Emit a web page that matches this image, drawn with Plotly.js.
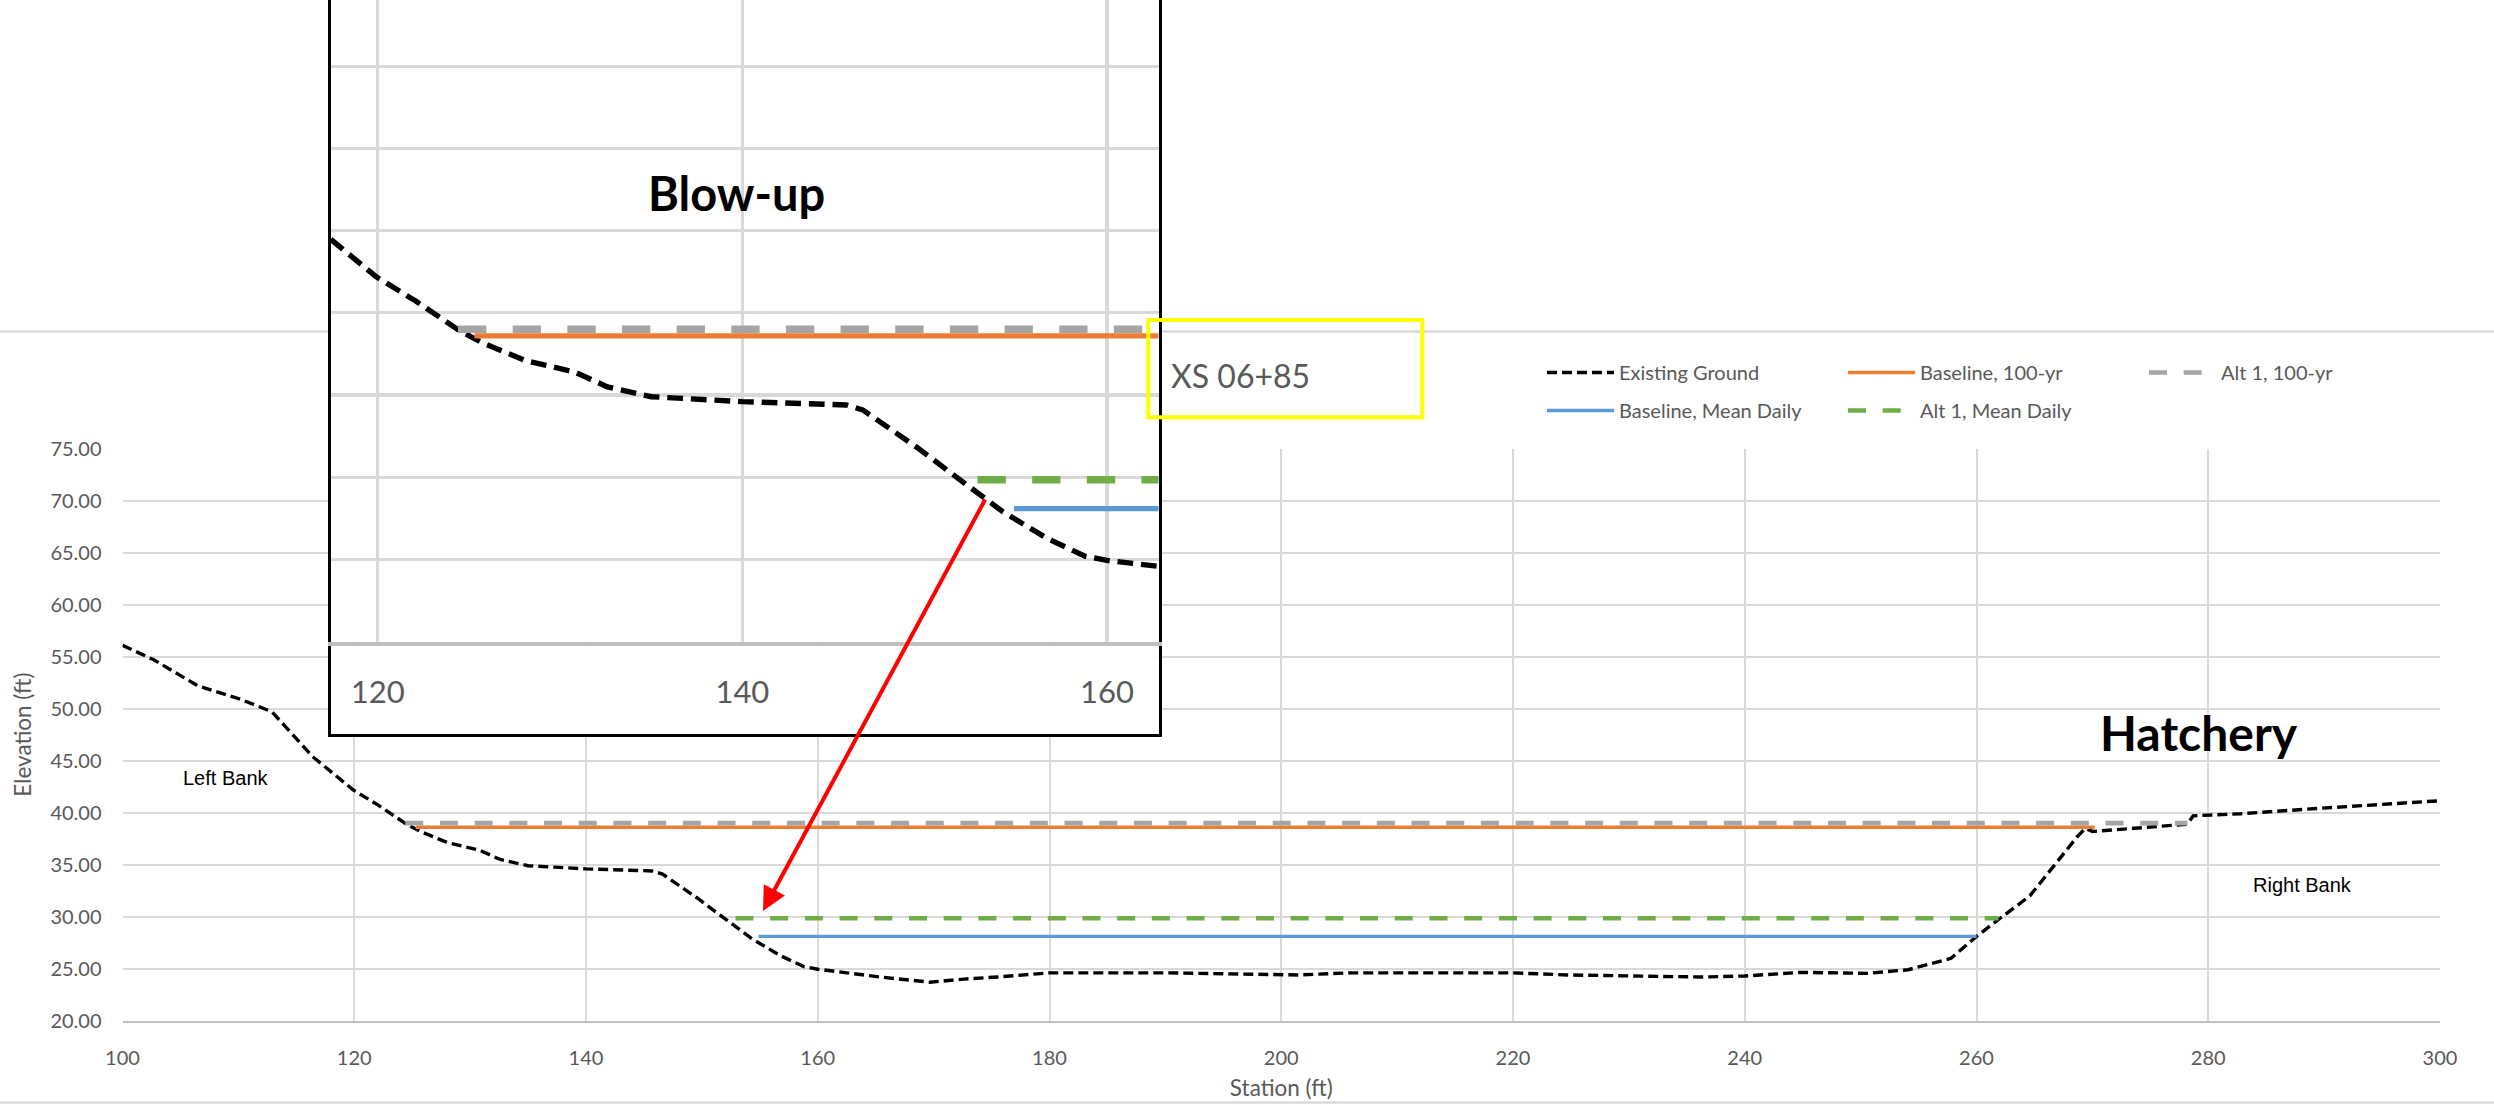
<!DOCTYPE html>
<html><head><meta charset="utf-8">
<script src="https://cdn.plot.ly/plotly-3.0.1.min.js"></script>
<style>html,body{margin:0;padding:0;background:#fff;} #chart{width:2494px;height:1105px;}</style>
</head><body><div id="chart"></div>
<script>
// ---- data ----
const stationGround = [100, 102.7, 106.5, 110.2, 112.9, 116.4, 119.9, 122.1, 124.5, 125.7, 128.1, 130.8, 132.6, 135, 140, 145.7, 146.6, 149.6, 152, 154.3, 156.7, 158.8, 160, 162.5, 165.4, 169.7, 172.6, 175.5, 180, 190, 201.5, 206, 220, 224.7, 230.4, 236.2, 240, 244.9, 250.6, 254.1, 257.8, 260, 262.1, 264.6, 266.4, 268.7, 269.4, 270, 273.6, 278.2, 278.7, 282.8, 289.3, 295.8, 300];
const elevGround = [56.1, 54.7, 52.2, 50.9, 49.7, 45.4, 42.2, 40.7, 38.9, 38.2, 37.1, 36.4, 35.5, 34.9, 34.6, 34.4, 34.1, 31.8, 29.8, 27.9, 26.3, 25.2, 24.95, 24.6, 24.2, 23.7, 24.0, 24.2, 24.6, 24.6, 24.4, 24.6, 24.6, 24.4, 24.3, 24.2, 24.3, 24.65, 24.55, 24.9, 26.0, 28.1, 29.9, 32.0, 34.5, 37.7, 38.5, 38.2, 38.5, 38.9, 39.7, 39.9, 40.4, 40.9, 41.15];
const base100Station = [125.3, 270.2];
const base100Elev = [38.6, 38.6];
const alt100Station = [124.4, 278.2];
const alt100Elev = [39.0, 39.0];
const baseMDStation = [154.9, 260.0];
const baseMDElev = [28.1, 28.1];
const altMDStation = [152.9, 261.9];
const altMDElev = [29.85, 29.85];
const seriesNames = ['Existing Ground', 'Baseline, 100-yr', 'Alt 1, 100-yr', 'Baseline, Mean Daily', 'Alt 1, Mean Daily'];
const xTicks = [100, 120, 140, 160, 180, 200, 220, 240, 260, 280, 300];
const yTicks = [20, 25, 30, 35, 40, 45, 50, 55, 60, 65, 70, 75];
const insetXTicks = [120, 140, 160];

// ---- page geometry helpers (layout only) ----
const W = 2494, H = 1105;
const px = p => p / W;
const py = p => 1 - p / H;
const K = 1.575; // blow-up magnification

const C = {ground: '#000000', base100: '#ed7d31', alt100: '#a5a5a5', baseMD: '#5b9bd5', altMD: '#70ad47'};

function series(xa, ya, big) {
  const k = big ? K : 1;
  const sl = !big;
  return [
    {x: stationGround, y: elevGround, name: seriesNames[0], xaxis: xa, yaxis: ya, mode: 'lines', showlegend: sl, legend: 'legend',
     line: {color: C.ground, width: 3.4 * k, dash: (10 * k) + 'px,' + (5 * k) + 'px'}},
    {x: base100Station, y: base100Elev, name: seriesNames[1], xaxis: xa, yaxis: ya, mode: 'lines', showlegend: sl, legend: 'legend',
     line: {color: C.base100, width: 3.3 * k}},
    {x: alt100Station, y: alt100Elev, name: seriesNames[2], xaxis: xa, yaxis: ya, mode: 'lines', showlegend: sl, legend: 'legend',
     line: {color: C.alt100, width: 4.7 * k, dash: (18 * k) + 'px,' + (16.7 * k) + 'px'}},
    {x: baseMDStation, y: baseMDElev, name: seriesNames[3], xaxis: xa, yaxis: ya, mode: 'lines', showlegend: sl, legend: 'legend2',
     line: {color: C.baseMD, width: 3.3 * k}},
    {x: altMDStation, y: altMDElev, name: seriesNames[4], xaxis: xa, yaxis: ya, mode: 'lines', showlegend: sl, legend: 'legend2',
     line: {color: C.altMD, width: 4.7 * k, dash: (18 * k) + 'px,' + (16.7 * k) + 'px'}}
  ];
}

// empty placeholder trace so the label strip under the blow-up gets its own (white) subplot
const stripTrace = {x: [], y: [], xaxis: 'x2', yaxis: 'y2', mode: 'lines', showlegend: false, hoverinfo: 'skip'};

const traces = [].concat(series('x', 'y', false), [stripTrace], series('x3', 'y3', true));

const legendCommon = {
  orientation: 'h', xanchor: 'left', yanchor: 'top', x: px(1542),
  entrywidth: 219, entrywidthmode: 'pixels', itemwidth: 67,
  font: {family: 'Lato, sans-serif', size: 20, color: '#595959'},
  bgcolor: 'rgba(0,0,0,0)', borderwidth: 0, traceorder: 'normal', itemclick: false, itemdoubleclick: false
};

const layout = {
  width: W, height: H,
  margin: {l: 0, r: 0, t: 0, b: 0},
  paper_bgcolor: '#ffffff', plot_bgcolor: '#ffffff',
  font: {family: 'Lato, sans-serif', size: 20, color: '#595959'},
  showlegend: true,
  legend: Object.assign({}, legendCommon, {y: py(353)}),
  legend2: Object.assign({}, legendCommon, {y: py(391)}),
  xaxis: {
    domain: [px(122.5), px(2440)], anchor: 'y', range: [100, 300], tickvals: xTicks,
    showgrid: true, gridcolor: '#d9d9d9', gridwidth: 2, zeroline: false,
    showline: true, linecolor: '#bfbfbf', linewidth: 2.5, ticks: '', ticklabelstandoff: 18,
    tickfont: {size: 20, color: '#595959'},
    title: {text: 'Station (ft)', font: {size: 22.5, color: '#595959'}, standoff: 12},
    fixedrange: true
  },
  yaxis: {
    domain: [py(1020.7), py(448.7)], anchor: 'x', range: [20, 75], tickvals: yTicks, tickformat: '.2f',
    showgrid: true, gridcolor: '#d9d9d9', gridwidth: 2, zeroline: false, showline: false,
    ticks: '', ticklabelstandoff: 20, tickfont: {size: 20, color: '#595959'},
    title: {text: 'Elevation (ft)', font: {size: 22.5, color: '#595959'}, standoff: 12},
    fixedrange: true
  },
  // strip below the blow-up plot area (holds its tick labels)
  xaxis2: {
    domain: [px(330.8), px(1158.5)], anchor: 'y2', range: [0, 1], showgrid: false, zeroline: false,
    showticklabels: false, ticks: '', showline: true, linecolor: '#000000', linewidth: 3, fixedrange: true
  },
  yaxis2: {
    domain: [py(734), py(641.8)], anchor: 'x2', range: [0, 1], showgrid: false, zeroline: false,
    showticklabels: false, ticks: '', showline: true, mirror: true, linecolor: '#000000', linewidth: 3, fixedrange: true
  },
  // blow-up plot area
  xaxis3: {
    domain: [px(330.8), px(1158.5)], anchor: 'y3', range: [117.42, 162.83], tickvals: insetXTicks,
    showgrid: true, gridcolor: '#d9d9d9', gridwidth: 3.2, zeroline: false,
    showline: true, linecolor: '#bfbfbf', linewidth: 4.5, ticks: '', ticklabelstandoff: 19,
    tickfont: {size: 31, color: '#595959'}, fixedrange: true
  },
  yaxis3: {
    domain: [py(641.8), 1], anchor: 'x3', range: [20, 59.02], tick0: 0, dtick: 5,
    showgrid: true, gridcolor: '#d9d9d9', gridwidth: 3.2, zeroline: false, showticklabels: false, ticks: '',
    showline: true, mirror: true, linecolor: '#000000', linewidth: 3, fixedrange: true
  },
  shapes: [
    {type: 'line', xref: 'paper', yref: 'paper', x0: 0, x1: 1, y0: py(331.5), y1: py(331.5), layer: 'below',
     line: {color: '#d9d9d9', width: 2.5}},
    {type: 'line', xref: 'paper', yref: 'paper', x0: 0, x1: 1, y0: py(1102.5), y1: py(1102.5), layer: 'below',
     line: {color: '#d9d9d9', width: 2.5}},
    {type: 'rect', xref: 'paper', yref: 'paper', x0: px(1148.3), x1: px(1422.3), y0: py(417.3), y1: py(320), layer: 'above',
     line: {color: '#ffff00', width: 4}, fillcolor: 'rgba(0,0,0,0)'}
  ],
  annotations: [
    {text: '<b>Blow-up</b>', xref: 'paper', yref: 'paper', x: px(736), y: py(193), xanchor: 'center', yanchor: 'middle',
     showarrow: false, font: {family: 'Lato, sans-serif', size: 47, color: '#000000'}},
    {text: '<b>Hatchery</b>', xref: 'paper', yref: 'paper', x: px(2199), y: py(732), xanchor: 'center', yanchor: 'middle',
     showarrow: false, font: {family: 'Lato, sans-serif', size: 48, color: '#000000'}},
    {text: 'Left Bank', xref: 'paper', yref: 'paper', x: px(226), y: py(778), xanchor: 'center', yanchor: 'middle',
     showarrow: false, font: {family: 'Liberation Sans, Arial, sans-serif', size: 20, color: '#000000'}},
    {text: 'Right Bank', xref: 'paper', yref: 'paper', x: px(2302), y: py(885), xanchor: 'center', yanchor: 'middle',
     showarrow: false, font: {family: 'Liberation Sans, Arial, sans-serif', size: 20, color: '#000000'}},
    {text: 'XS 06+85', xref: 'paper', yref: 'paper', x: px(1169), y: py(375), xanchor: 'left', yanchor: 'middle',
     showarrow: false, font: {family: 'Lato, sans-serif', size: 32, color: '#595959'}},
    {text: '', xref: 'paper', yref: 'paper', x: px(763), y: py(911), axref: 'pixel', ayref: 'pixel', ax: 223, ay: -413,
     showarrow: true, arrowhead: 2, arrowsize: 1.2, arrowwidth: 4, arrowcolor: '#ff0000'}
  ]
};

Plotly.newPlot('chart', traces, layout, {staticPlot: true, displayModeBar: false});
</script>
</body></html>
